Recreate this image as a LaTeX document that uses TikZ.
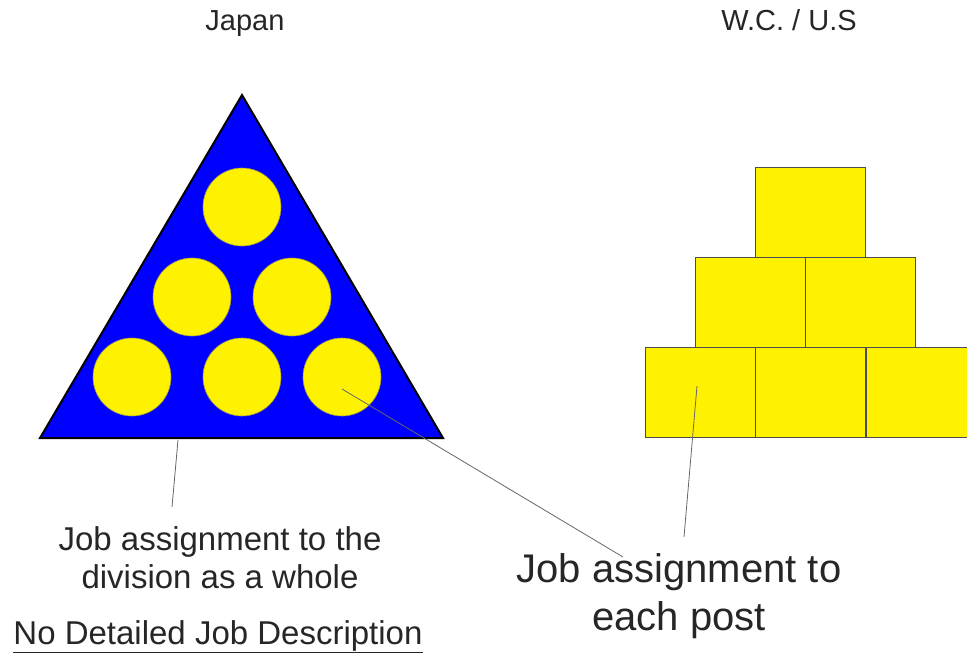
\documentclass[tikz,border=0pt]{standalone}
\usepackage{fontspec}
\setmainfont{Liberation Sans}
\usetikzlibrary{positioning}
\tikzset{
  member/.style={circle, draw=yellow!55!black, fill=yellow, line width=0.6pt,
                 minimum size=78pt, inner sep=0pt},
  post/.style={rectangle, draw=black!70, fill=yellow, line width=0.9pt,
               minimum width=110pt, minimum height=90pt, inner sep=0pt},
  head/.style={font=\fontsize{29}{34}\selectfont, text=black!85, anchor=base},
  note/.style={font=\fontsize{33}{38}\selectfont, align=center, text=black!85,
               anchor=base},
  bignote/.style={font=\fontsize{40}{48}\selectfont, align=center, text=black!85,
                  anchor=base},
  lead/.style={draw=black!60, line width=0.8pt},
}

\begin{document}
\begin{tikzpicture}[x=1pt,y=-1pt]
  \useasboundingbox (0,0) rectangle (967,656);
  % headings
  \node[head] (japan) at (245,30) {Japan};
  \node[head] (wcus) at (789,30) {W.C. / U.S};
  % triangle of the division
  \filldraw[fill=blue, draw=black, line width=2pt, line join=miter]
        (242,95) -- (443,438) -- (40,438) -- cycle;
  % circles inside
  \foreach \nm/\x/\y in {c1/242/207, c2/192/297, c3/292/297,
                         c4/132/377, c5/242/377, c6/342/377}
    \node[member] (\nm) at (\x,\y) {};
  % pile of posts
  \node[post] (p1) at (810,212) {};
  \node[post] (p21) at (750,302) {};
  \node[post, right=0pt of p21] (p22) {};
  \node[post] (p31) at (700,392) {};
  \node[post, right=0pt of p31] (p32) {};
  \node[post, right=0pt of p32] (p33) {};
  % notes (base = baseline of the last line)
  \node[note] (jobdiv) at (220,588) {Job assignment to the\\division as a whole};
  \node[note] (nodesc) at (218,644) {\underline{No Detailed Job Description}};
  \node[bignote] (jobpost) at (679,630) {Job assignment to\\each post};
  % leader lines
  \coordinate (t1) at (178,440);
  \coordinate (e1) at (172,507);
  \coordinate (t2) at ([yshift=-12pt]c6.center);
  \coordinate (e2) at (623,557);
  \coordinate (t3) at ([xshift=-3pt,yshift=6pt]p31.center);
  \coordinate (e3) at (684,537);
  \draw[lead] (t1) -- (e1);
  \draw[lead] (t2) -- (e2);
  \draw[lead] (t3) -- (e3);
\end{tikzpicture}
\end{document}
